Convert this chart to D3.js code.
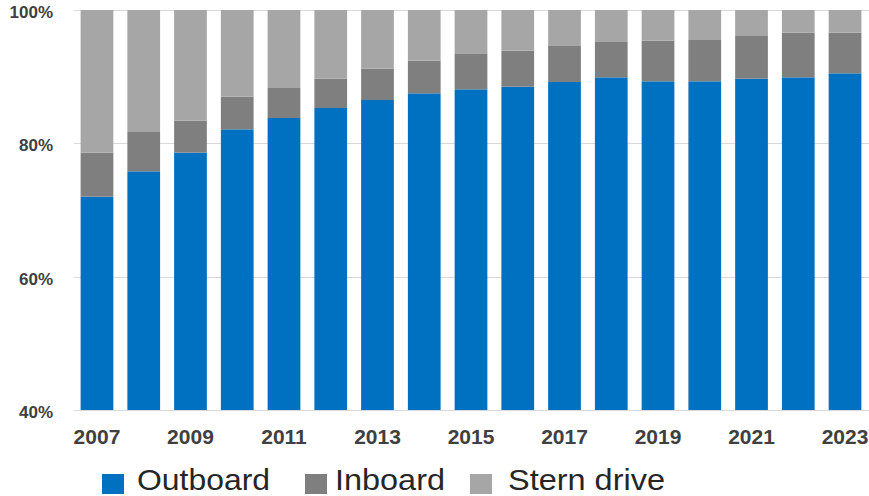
<!DOCTYPE html>
<html>
<head>
<meta charset="utf-8">
<script src="https://cdn.jsdelivr.net/npm/d3@7/dist/d3.min.js"></script>
<style>
  html, body { margin: 0; padding: 0; background: #fff; }
  svg { display: block; }
</style>
</head>
<body>
<svg id="chart" width="869" height="496"></svg>
<script>
const years = ["2007","2008","2009","2010","2011","2012","2013","2014","2015","2016","2017","2018","2019","2020","2021","2022","2023"];
const outboard = [72.0, 75.8, 78.6, 82.1, 83.8, 85.3, 86.5, 87.5, 88.1, 88.5, 89.2, 89.9, 89.3, 89.3, 89.7, 89.9, 90.5];
const inboard  = [6.6, 6.0, 4.8, 4.9, 4.5, 4.4, 4.7, 4.9, 5.3, 5.4, 5.4, 5.4, 6.1, 6.3, 6.5, 6.7, 6.1];
const sternDrive = [21.4, 18.2, 16.6, 13.0, 11.7, 10.3, 8.8, 7.6, 6.6, 6.1, 5.4, 4.7, 4.6, 4.4, 3.8, 3.4, 3.4];
const yTicks = [40, 60, 80, 100];
const xTickLabels = ["2007","2009","2011","2013","2015","2017","2019","2021","2023"];
const seriesNames = ["Outboard", "Inboard", "Stern drive"];
const seriesColors = ["#0070C0", "#7F7F7F", "#A6A6A6"];

(function () {
const svg = d3.select("#chart");
const plotLeft = 73.6, plotRight = 868.4, plotTop = 10, plotBottom = 410;

const x = d3.scaleBand().domain(years).range([plotLeft, plotRight]).paddingInner(0.3).paddingOuter(0.15);
const y = d3.scaleLinear().domain([40, 100]).range([plotBottom, plotTop]);

// gridlines
svg.append("g").selectAll("line").data(yTicks).join("line")
  .attr("x1", 74).attr("x2", 869)
  .attr("y1", d => Math.round(y(d)) + 0.5).attr("y2", d => Math.round(y(d)) + 0.5)
  .attr("stroke", "#d9d9d9").attr("stroke-width", 1);

// stacked data
const table = years.map((yr, i) => ({year: yr, Outboard: outboard[i], Inboard: inboard[i], "Stern drive": sternDrive[i]}));
const stacked = d3.stack().keys(seriesNames)(table);

svg.append("g").selectAll("g").data(stacked).join("g")
  .attr("fill", (d, i) => seriesColors[i])
  .selectAll("rect").data(d => d).join("rect")
  .attr("x", d => x(d.data.year))
  .attr("width", x.bandwidth())
  .attr("y", d => y(Math.min(100, d[1])))
  .attr("height", d => y(Math.max(40, d[0])) - y(Math.min(100, d[1])));

// y axis
const yAxis = d3.axisLeft(y).tickValues(yTicks).tickFormat(d => d + "%").tickSize(0).tickPadding(0);
const gy = svg.append("g").attr("transform", "translate(53,0)").call(yAxis);
gy.select(".domain").remove();
gy.selectAll("text")
  .attr("font-family", "'Liberation Sans', Arial, sans-serif")
  .attr("font-size", 17).attr("font-weight", "bold").attr("fill", "#404040")
  .attr("dy", "0.45em");

// x axis
const xAxis = d3.axisBottom(x).tickValues(xTickLabels).tickSize(0).tickPadding(0);
const gx = svg.append("g").attr("transform", "translate(0,443.5)").call(xAxis);
gx.select(".domain").remove();
gx.selectAll("text")
  .attr("font-family", "'Liberation Sans', Arial, sans-serif")
  .attr("font-size", 21).attr("font-weight", "bold").attr("fill", "#404040")
  .attr("dy", 0).attr("y", 0);

// legend
const legendItems = [
  {sx: 102, tx: 137, len: 133},
  {sx: 305, tx: 335, len: 110},
  {sx: 470, tx: 508, len: 157}
];
const lg = svg.append("g");
seriesNames.forEach((name, i) => {
  const it = legendItems[i];
  lg.append("rect").attr("x", it.sx).attr("y", 474).attr("width", 22).attr("height", 20)
    .attr("fill", seriesColors[i]);
  lg.append("text").attr("x", it.tx).attr("y", 490)
    .attr("font-family", "'Liberation Sans', Arial, sans-serif")
    .attr("font-size", 29).attr("fill", "#262626")
    .attr("textLength", it.len).attr("lengthAdjust", "spacingAndGlyphs")
    .text(name);
});
})();
</script>
</body>
</html>
